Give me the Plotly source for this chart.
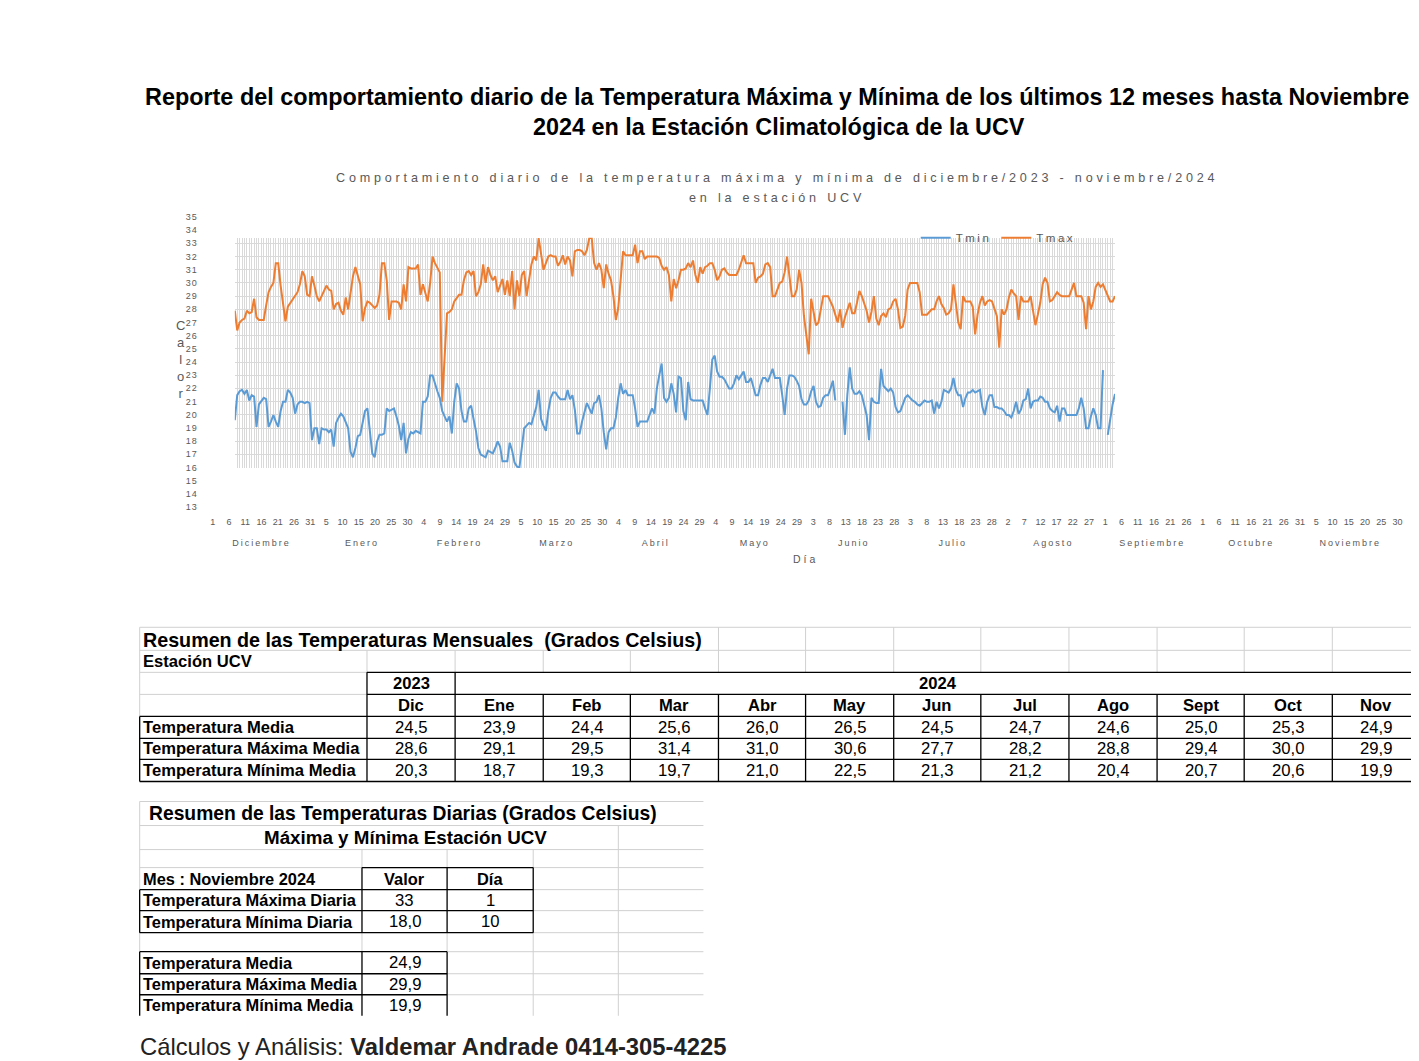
import plotly.graph_objects as go

# figure size and the measured mapping from figure pixels to the photographed page
FW, FH = 1419, 1061
SX, BX = 0.993, 11.5
SY, BY = 0.9893, 13.5

# ---------------- data ----------------
month_names = ["Diciembre", "Enero", "Febrero", "Marzo", "Abril", "Mayo", "Junio",
               "Julio", "Agosto", "Septiembre", "Octubre", "Noviembre"]
month_days = [31, 31, 29, 31, 30, 31, 30, 31, 31, 30, 31, 30]
y_tick_values = list(range(13, 36))

tmax = [
    27.9, 26.4, 27.0, 27.2, 27.3, 27.9, 27.7, 27.8, 28.8, 27.4,
    27.2, 27.2, 27.2, 28.3, 29.3, 29.7, 30.0, 31.5, 31.5, 29.8,
    28.4, 27.1, 28.2, 28.5, 28.8, 29.0, 29.3, 29.9, 30.9, 30.5,
    29.1, 29.0, 30.5, 29.8, 29.0, 28.6, 29.0, 29.3, 29.8, 29.5,
    29.4, 28.0, 28.4, 28.5, 27.9, 27.6, 28.9, 28.0, 29.4, 30.5,
    31.2, 30.6, 29.9, 27.1, 28.1, 28.6, 28.5, 28.3, 28.1, 28.3,
    29.1, 31.5, 31.5, 30.2, 27.2, 28.6, 28.6, 28.6, 28.5, 28.0,
    29.9, 28.6, 31.2, 31.1, 31.1, 31.1, 31.4, 29.1, 29.9, 29.2,
    28.6, 30.0, 32.0, 31.5, 31.1, 30.8, 21.0, 24.4, 27.7, 27.8,
    28.0, 28.6, 28.9, 29.1, 29.1, 30.2, 30.8, 30.9, 30.6, 30.9,
    29.0, 29.3, 29.9, 31.4, 30.0, 31.2, 30.6, 30.2, 30.5, 29.3,
    29.8, 30.3, 29.1, 30.2, 29.0, 30.9, 28.0, 30.2, 29.0, 30.6,
    30.9, 29.0, 30.2, 31.4, 32.0, 31.7, 33.4, 32.2, 31.0, 31.5,
    32.0, 32.1, 32.0, 32.0, 31.3, 31.6, 32.1, 31.4, 32.0, 31.7,
    30.5, 32.4, 32.5, 32.5, 32.4, 32.1, 32.5, 33.4, 33.4, 31.5,
    31.0, 31.5, 31.0, 29.6, 31.4, 30.7, 30.2, 29.0, 27.2, 28.1,
    30.0, 32.4, 32.1, 32.1, 32.1, 32.1, 32.9, 31.5, 32.4, 32.4,
    31.8, 32.0, 32.0, 32.0, 32.0, 32.0, 31.9, 31.3, 31.0, 31.2,
    30.6, 28.6, 30.3, 29.6, 30.2, 31.0, 31.0, 31.1, 31.5, 31.2,
    31.7, 30.6, 30.0, 31.2, 30.7, 31.2, 31.3, 31.5, 31.5, 31.0,
    30.2, 30.5, 31.0, 31.1, 30.8, 30.6, 30.6, 30.6, 30.6, 31.0,
    31.5, 32.1, 31.5, 31.5, 31.5, 31.5, 30.0, 30.4, 30.5, 30.7,
    31.4, 31.5, 31.2, 29.0, 29.0, 29.5, 30.0, 30.1, 30.8, 32.0,
    30.6, 29.0, 29.0, 29.5, 31.0, 30.0, 27.5, 26.0, 24.6, 28.8,
    27.8, 26.8, 27.0, 27.9, 29.0, 29.0, 29.0, 28.6, 28.2, 27.6,
    27.0, 28.0, 26.6, 27.4, 28.0, 28.5, 27.7, 27.7, 28.5, 29.4,
    29.0, 28.5, 27.9, 27.0, 27.8, 29.0, 27.3, 26.8, 27.5, 27.7,
    27.4, 28.0, 28.1, 28.6, 28.8, 28.0, 26.6, 26.7, 27.5, 29.5,
    30.0, 30.0, 30.0, 30.0, 29.3, 27.6, 27.6, 27.6, 27.8, 28.0,
    28.0, 28.6, 29.0, 28.4, 28.1, 27.6, 27.7, 28.0, 29.9, 28.4,
    27.0, 26.5, 29.0, 28.6, 28.6, 28.6, 28.2, 26.1, 27.6, 28.5,
    29.0, 28.3, 28.6, 28.7, 28.6, 28.0, 27.5, 25.1, 28.0, 27.6,
    28.0, 28.9, 29.5, 29.2, 29.0, 27.2, 29.0, 28.6, 28.6, 28.6,
    29.0, 28.0, 26.8, 27.6, 28.5, 29.9, 30.4, 30.0, 28.6, 28.7,
    29.0, 29.3, 29.1, 29.0, 29.0, 29.0, 29.0, 29.5, 30.0, 29.0,
    29.0, 29.0, 28.5, 26.5, 29.0, 28.0, 28.6, 29.7, 30.0, 29.7,
    29.9, 29.5, 29.0, 28.6, 28.6, 29.0,
]

tmin = [
    19.6, 21.5, 21.8, 21.9, 21.6, 21.9, 21.1, 21.5, 21.4, 19.1,
    20.8, 21.1, 21.3, 21.2, 19.1, 19.5, 20.0, 19.5, 19.1, 20.3,
    21.0, 21.0, 21.9, 21.7, 21.3, 20.1, 20.8, 21.0, 21.0, 20.9,
    21.0, 20.9, 18.1, 19.0, 19.0, 17.8, 19.0, 18.9, 18.9, 18.7,
    18.9, 17.6, 19.4, 19.8, 20.1, 19.9, 19.5, 19.0, 17.2, 16.8,
    17.5, 18.4, 18.5, 19.5, 20.3, 20.5, 18.5, 17.1, 16.8, 18.0,
    18.5, 18.5, 18.6, 20.5, 20.3, 20.4, 20.5, 19.9, 19.2, 18.1,
    19.4, 17.1, 18.2, 18.7, 18.6, 18.8, 18.7, 18.6, 21.0, 21.0,
    21.4, 23.0, 23.0, 22.3, 21.8, 21.3, 20.3, 19.9, 19.5, 19.9,
    18.6, 21.0, 22.4, 22.0, 20.3, 19.5, 19.5, 20.5, 20.7, 19.7,
    18.8, 17.5, 17.0, 16.9, 16.8, 17.3, 17.2, 17.1, 17.5, 18.0,
    17.6, 16.5, 16.5, 16.5, 17.9, 17.3, 16.4, 16.1, 16.0, 17.6,
    19.0, 19.2, 19.4, 19.3, 20.0, 20.6, 21.9, 19.7, 19.2, 18.8,
    20.3, 21.3, 21.7, 21.7, 21.4, 21.2, 21.2, 21.2, 21.9, 21.2,
    21.5, 20.4, 18.6, 18.6, 19.5, 20.3, 20.9, 20.5, 20.1, 20.9,
    21.0, 21.5, 20.5, 18.7, 17.4, 18.7, 19.0, 19.0, 19.8, 21.3,
    22.4, 21.6, 21.9, 21.5, 21.5, 21.5, 20.5, 19.1, 19.5, 19.5,
    19.5, 19.5, 20.0, 20.5, 20.1, 22.0, 23.0, 23.9, 21.3, 21.0,
    21.3, 22.4, 21.6, 20.2, 22.9, 22.8, 20.3, 19.6, 22.5, 21.2,
    21.1, 21.1, 21.1, 21.1, 21.1, 20.5, 20.0, 22.0, 24.2, 24.5,
    23.3, 22.9, 22.9, 22.7, 22.4, 22.0, 22.0, 22.4, 23.0, 22.7,
    23.0, 23.3, 22.5, 22.5, 22.8, 22.1, 21.5, 21.5, 22.3, 22.8,
    22.8, 22.5, 23.0, 23.5, 22.8, 22.8, 22.8, 21.5, 20.0, 22.0,
    23.0, 23.0, 22.9, 22.6, 22.2, 21.2, 20.8, 20.8, 21.1, 21.8,
    22.2, 21.0, 20.6, 20.7, 21.3, 21.5, 21.5, 22.0, 22.6, 21.1,
    None, None, 21.0, 18.5, 21.5, 23.6, 22.0, 21.6, 21.6, 21.8,
    21.5, 20.7, 20.0, 18.1, 21.3, 21.0, 20.9, 20.9, 23.5, 22.2,
    22.0, 21.8, 22.0, 21.7, 20.6, 20.2, 20.3, 20.8, 21.3, 21.5,
    21.3, 21.1, 21.0, 20.8, 20.7, 20.9, 21.1, 21.0, 21.0, 21.1,
    20.1, 21.0, 20.5, 21.0, 21.9, 21.8, 21.7, 22.0, 22.8, 21.9,
    21.5, 21.5, 20.6, 21.3, 21.7, 21.7, 21.9, 21.7, 21.8, 21.9,
    20.6, 20.0, 21.0, 21.5, 21.5, 20.6, 20.6, 20.5, 20.5, 20.3,
    20.0, 20.0, 19.8, 20.3, 21.0, 20.1, 20.4, 21.1, 21.2, 22.0,
    20.5, 21.0, 21.1, 21.1, 21.4, 21.3, 21.0, 21.0, 20.5, 20.3,
    20.2, 20.7, 19.5, 20.5, 20.5, 20.0, 20.0, 20.0, 20.0, 20.0,
    20.5, 21.3, 20.5, 19.0, 19.0, 19.9, 20.5, 20.0, 19.0, 19.0,
    23.4, None, 18.5, 19.7, 20.8, 21.6,
]

# monthly summary table
table_months = ["Dic", "Ene", "Feb", "Mar", "Abr", "May", "Jun", "Jul", "Ago", "Sept", "Oct", "Nov"]
row_labels = ["Temperatura Media", "Temperatura Máxima Media", "Temperatura Mínima Media"]
temp_media = [24.5, 23.9, 24.4, 25.6, 26.0, 26.5, 24.5, 24.7, 24.6, 25.0, 25.3, 24.9]
temp_max_media = [28.6, 29.1, 29.5, 31.4, 31.0, 30.6, 27.7, 28.2, 28.8, 29.4, 30.0, 29.9]
temp_min_media = [20.3, 18.7, 19.3, 19.7, 21.0, 22.5, 21.3, 21.2, 20.4, 20.7, 20.6, 19.9]

# daily summary (November 2024)
daily_labels = ["Temperatura Máxima Diaria", "Temperatura Mínima Diaria"]
daily_values = ["33", "18,0"]
daily_days = ["1", "10"]
nov_labels = ["Temperatura Media", "Temperatura Máxima Media", "Temperatura Mínima Media"]
nov_values = [24.9, 29.9, 19.9]

# ---------------- helpers ----------------
def fx(x):
    return ((x - BX) / SX) / FW

def fy(y):
    return 1 - ((y - BY) / SY) / FH

def fmt(v):
    return f"{v:.1f}".replace(".", ",")

FONT = "Liberation Sans, Arial, sans-serif"
GREY = "#595959"

n_days = sum(month_days)
day_index = list(range(n_days))
day_of_month = [d for m in month_days for d in range(1, m + 1)]
tick_idx = list(range(0, n_days, 5))
tick_txt = [str(day_of_month[i]) for i in tick_idx]
starts = [sum(month_days[:k]) for k in range(len(month_days))]
month_centers = [s + (n - 1) / 2 for s, n in zip(starts, month_days)]
month_txt = [f'<span style="letter-spacing:2px">{m}</span>' for m in month_names]

fig = go.Figure()

fig.add_trace(go.Scatter(x=day_index, y=tmin, mode="lines",
                         name='<span style="letter-spacing:2.5px">Tmin</span>',
                         line=dict(color="#5B9BD5", width=2), connectgaps=False,
                         hoverinfo="skip"))
fig.add_trace(go.Scatter(x=day_index, y=tmax, mode="lines",
                         name='<span style="letter-spacing:2.5px">Tmax</span>',
                         line=dict(color="#ED7D31", width=2), connectgaps=False,
                         hoverinfo="skip"))
# invisible anchors for the label axes
for ax in ["2", "3", "4"]:
    fig.add_trace(go.Scatter(x=[0], y=[y_tick_values[0]], xaxis="x" + ax, yaxis="y" + ax,
                             mode="markers", marker=dict(opacity=0), showlegend=False,
                             hoverinfo="skip"))

tickfont = dict(family=FONT, size=9, color=GREY)

fig.update_layout(
    width=FW, height=FH, autosize=False,
    margin=dict(l=0, r=0, t=0, b=0),
    paper_bgcolor="white", plot_bgcolor="rgba(0,0,0,0)",
    font=dict(family=FONT, color="black"),
    xaxis=dict(domain=[fx(235), fx(1114)], range=[0, n_days - 1], tick0=0, dtick=1,
               showgrid=True, gridcolor="#D9D9D9", gridwidth=1, showticklabels=False,
               zeroline=False, showline=False, ticks="", anchor="y", fixedrange=True),
    yaxis=dict(domain=[fy(468), fy(238)], range=[15.98, 33.42], tick0=0, dtick=1,
               showgrid=True, gridcolor="#D9D9D9", gridwidth=1, showticklabels=False,
               zeroline=False, showline=False, ticks="", anchor="x", fixedrange=True),
    xaxis2=dict(domain=[fx(199), fx(201)], range=[0, 1], visible=False, anchor="y2"),
    yaxis2=dict(domain=[fy(507), fy(217)], range=[y_tick_values[0], y_tick_values[-1]],
                tickmode="array", tickvals=y_tick_values,
                ticktext=[f'<span style="letter-spacing:1px">{v}</span>' for v in y_tick_values],
                showgrid=False, zeroline=False, showline=False, ticks="",
                tickfont=tickfont, anchor="x2"),
    xaxis3=dict(domain=[fx(213), fx(1396)], range=[0, n_days - 1], tickmode="array",
                tickvals=tick_idx, ticktext=tick_txt, tickangle=0, showgrid=False,
                zeroline=False, showline=False, ticks="", tickfont=tickfont, anchor="y3"),
    yaxis3=dict(domain=[fy(515), fy(513)], range=[0, 1], visible=False, anchor="x3"),
    xaxis4=dict(domain=[fx(213), fx(1396)], range=[0, n_days - 1], tickmode="array",
                tickvals=month_centers, ticktext=month_txt, tickangle=0, showgrid=False,
                zeroline=False, showline=False, ticks="", tickfont=tickfont, anchor="y4"),
    yaxis4=dict(domain=[fy(536), fy(534)], range=[0, 1], visible=False, anchor="x4"),
    legend=dict(orientation="h", x=fx(915), y=fy(238), xanchor="left", yanchor="middle",
                bgcolor="rgba(0,0,0,0)", font=dict(family=FONT, size=11.5, color=GREY),
                itemwidth=30, tracegroupgap=0),
)

ann = []
def add_text(text, x, y, size, bold=False, color="black", xanchor="left", family=FONT):
    t = f"<b>{text}</b>" if bold else text
    ann.append(dict(text=t, x=fx(x), y=fy(y), xref="paper", yref="paper",
                    xanchor=xanchor, yanchor="middle", showarrow=False, borderpad=0,
                    font=dict(family=family, size=size, color=color)))

# Page title
add_text("Reporte del comportamiento diario de la Temperatura Máxima y Mínima de los últimos 12 meses hasta Noviembre",
         776, 97, 23.4, bold=True, xanchor="center")
add_text("2024 en la Estación Climatológica de la UCV", 778, 127, 23.4, bold=True, xanchor="center")

# Chart title
add_text('<span style="letter-spacing:3.8px">Comportamiento diario de la temperatura máxima y mínima de diciembre/2023 - noviembre/2024</span>',
         776, 178, 12.6, color=GREY, xanchor="center")
add_text('<span style="letter-spacing:3.8px">en la estación UCV</span>', 776, 198, 12.6, color=GREY, xanchor="center")
# axis titles
add_text('<span style="letter-spacing:3px">Día</span>', 805, 559, 10.5, color=GREY, xanchor="center")
ann.append(dict(text="C<br>a<br>l<br>o<br>r", x=fx(181), y=fy(360), xref="paper", yref="paper",
                xanchor="center", yanchor="middle", showarrow=False,
                font=dict(family=FONT, size=13, color=GREY)))

# ---------------- monthly table ----------------
LIGHT = "#D0D0D0"
shapes = []
def hline(y, x0, x1, color, w):
    shapes.append(dict(type="line", xref="paper", yref="paper", x0=fx(x0), x1=fx(x1),
                       y0=fy(y), y1=fy(y), line=dict(color=color, width=w)))
def vline(x, y0, y1, color, w):
    shapes.append(dict(type="line", xref="paper", yref="paper", x0=fx(x), x1=fx(x),
                       y0=fy(y0), y1=fy(y1), line=dict(color=color, width=w)))

c1 = [140, 367, 455, 543, 630, 718, 805, 893, 980, 1068, 1156, 1243, 1331, 1419]
r1 = [627, 650, 672, 694, 716, 738, 759, 781]

hline(r1[0], c1[0], c1[-1], LIGHT, 1)
hline(r1[1], c1[0], c1[-1], LIGHT, 1)
hline(r1[2], c1[0], c1[1], LIGHT, 1)
hline(r1[3], c1[0], c1[1], LIGHT, 1)
vline(c1[0], r1[0], r1[4], LIGHT, 1)
for x in c1[5:-1]:
    vline(x, r1[0], r1[1], LIGHT, 1)
for x in c1[1:-1]:
    vline(x, r1[1], r1[2], LIGHT, 1)
hline(r1[2], c1[1], c1[-1], "black", 1.3)
hline(r1[3], c1[1], c1[-1], "black", 1.3)
for y in r1[4:]:
    hline(y, c1[0], c1[-1], "black", 1.3)
vline(c1[0], r1[4], r1[7], "black", 1.3)
vline(c1[1], r1[2], r1[7], "black", 1.3)
vline(c1[2], r1[2], r1[7], "black", 1.3)
for x in c1[3:-1]:
    vline(x, r1[3], r1[7], "black", 1.3)

def mid(a, b):
    return (a + b) / 2

add_text("Resumen de las Temperaturas Mensuales  (Grados Celsius)", 142, mid(r1[0], r1[1]) + 1, 19.7, bold=True)
add_text("Estación UCV", 142, mid(r1[1], r1[2]), 16.6, bold=True)
add_text("2023", mid(c1[1], c1[2]), mid(r1[2], r1[3]), 16.6, bold=True, xanchor="center")
add_text("2024", mid(c1[2], c1[-1]), mid(r1[2], r1[3]), 16.6, bold=True, xanchor="center")
for k, m in enumerate(table_months):
    add_text(m, mid(c1[k + 1], c1[k + 2]), mid(r1[3], r1[4]), 16.6, bold=True, xanchor="center")
for r, (lab, vals) in enumerate(zip(row_labels, [temp_media, temp_max_media, temp_min_media])):
    yc = mid(r1[4 + r], r1[5 + r])
    add_text(lab, 142, yc, 16.6, bold=True)
    for k, v in enumerate(vals):
        add_text(fmt(v), mid(c1[k + 1], c1[k + 2]), yc, 16.7, xanchor="center")

# ---------------- daily table ----------------
c2 = [140, 362, 447, 533, 618, 703]
r2 = [801, 825, 849, 867, 889, 910, 932, 951, 973, 994, 1015]

for y in r2[:4]:
    hline(y, c2[0], c2[-1], LIGHT, 1)
for y in r2[4:7]:
    hline(y, c2[3], c2[-1], LIGHT, 1)
for y in r2[7:10]:
    hline(y, c2[2], c2[-1], LIGHT, 1)
vline(c2[0], r2[0], r2[4], LIGHT, 1)
vline(c2[4], r2[1], r2[-1], LIGHT, 1)
for x in c2[1:4]:
    vline(x, r2[2], r2[3], LIGHT, 1)
    vline(x, r2[6], r2[7], LIGHT, 1)
vline(c2[3], r2[7], r2[-1], LIGHT, 1)
vline(c2[0], r2[6], r2[7], LIGHT, 1)

hline(r2[3], c2[1], c2[3], "black", 1.3)
for y in r2[4:7]:
    hline(y, c2[0], c2[3], "black", 1.3)
for x in c2[1:4]:
    vline(x, r2[3], r2[6], "black", 1.3)
vline(c2[0], r2[4], r2[6], "black", 1.3)
for y in r2[7:10]:
    hline(y, c2[0], c2[2], "black", 1.3)
for x in c2[0:3]:
    vline(x, r2[7], r2[-1], "black", 1.3)

add_text("Resumen de las Temperaturas Diarias (Grados Celsius)", 148, mid(r2[0], r2[1]), 19.3, bold=True)
add_text("Máxima y Mínima Estación UCV", 405, mid(r2[1], r2[2]), 18.8, bold=True, xanchor="center")
add_text("Mes : Noviembre 2024", 142, mid(r2[3], r2[4]), 16.4, bold=True)
add_text("Valor", mid(c2[1], c2[2]), mid(r2[3], r2[4]), 16.4, bold=True, xanchor="center")
add_text("Día", mid(c2[2], c2[3]), mid(r2[3], r2[4]), 16.4, bold=True, xanchor="center")
for r, (lab, v, d) in enumerate(zip(daily_labels, daily_values, daily_days)):
    yc = mid(r2[4 + r], r2[5 + r])
    add_text(lab, 142, yc, 16.4, bold=True)
    add_text(v, mid(c2[1], c2[2]), yc, 16.7, xanchor="center")
    add_text(d, mid(c2[2], c2[3]), yc, 16.7, xanchor="center")
for r, (lab, v) in enumerate(zip(nov_labels, nov_values)):
    yc = mid(r2[7 + r], r2[8 + r])
    add_text(lab, 142, yc, 16.4, bold=True)
    add_text(fmt(v), mid(c2[1], c2[2]), yc, 16.7, xanchor="center")

# footer
add_text("Cálculos y Análisis: <b>Valdemar Andrade 0414-305-4225</b>", 139, 1046, 23.8, color="#222222")

fig.update_layout(annotations=ann, shapes=shapes)
fig.write_html("out.html")
